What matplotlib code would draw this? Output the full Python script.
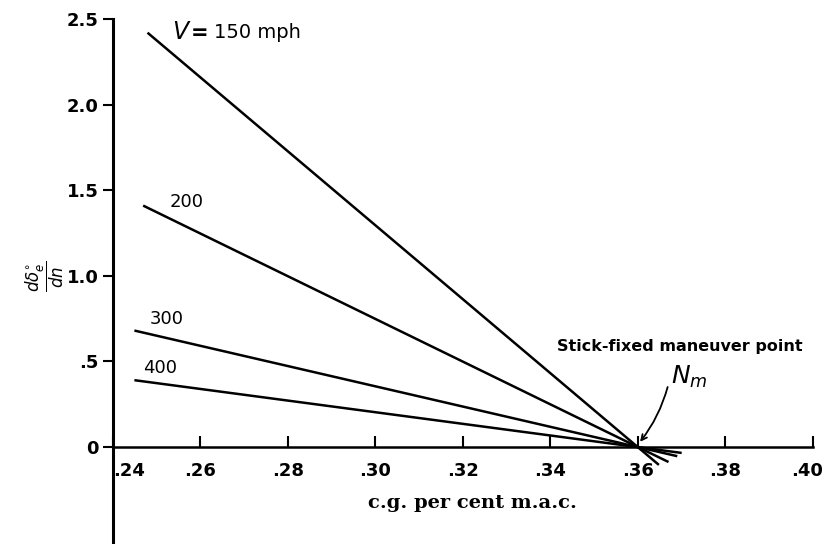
import matplotlib.pyplot as plt
import matplotlib.transforms as mtransforms
from matplotlib.ticker import FixedLocator

# lines of d(delta_e)/dn vs c.g. position, one per airspeed
speeds = [150, 200, 300, 400]
cg_start = [0.248, 0.247, 0.245, 0.245]
val_start = [2.42, 1.41, 0.68, 0.39]
cg_end = [0.3648, 0.367, 0.369, 0.370]
val_end = [-0.105, -0.088, -0.054, -0.035]

maneuver_point = 0.3605

x_ticks = [0.24, 0.26, 0.28, 0.30, 0.32, 0.34, 0.36, 0.38, 0.40]
x_tick_labels = ['.24', '.26', '.28', '.30', '.32', '.34', '.36', '.38', '.40']
y_ticks = [0, 0.5, 1.0, 1.5, 2.0, 2.5]
y_tick_labels = ['0', '.5', '1.0', '1.5', '2.0', '2.5']

fig = plt.figure(figsize=(8.24, 5.44), dpi=100)
ax = fig.add_axes([112.5/824, 0, (813-112.5)/824, (544-19)/544])
ax.set_xlim(0.24, 0.40)
ax.set_ylim(-0.567, 2.5)

for i in range(len(speeds)):
    ax.plot([cg_start[i], cg_end[i]], [val_start[i], val_end[i]],
            color='black', lw=1.8, solid_capstyle='butt')

# axes look
ax.spines['top'].set_visible(False)
ax.spines['right'].set_visible(False)
ax.spines['bottom'].set_position(('data', 0))
ax.spines['bottom'].set_linewidth(1.8)
ax.spines['left'].set_linewidth(2.2)

ax.xaxis.set_major_locator(FixedLocator(x_ticks))
ax.set_xticklabels(x_tick_labels)
ax.yaxis.set_major_locator(FixedLocator(y_ticks))
ax.set_yticklabels(y_tick_labels)
ax.tick_params(axis='x', direction='in', length=8, width=1.5, pad=11,
               labelsize=13)
ax.tick_params(axis='y', direction='out', length=7, width=1.5, pad=3,
               labelsize=13)
for lab in ax.get_xticklabels() + ax.get_yticklabels():
    lab.set_fontweight('bold')
# nudge the end labels like the original
xlabs = ax.get_xticklabels()
xlabs[0].set_transform(xlabs[0].get_transform() +
                       mtransforms.ScaledTranslation(0.17, 0, fig.dpi_scale_trans))
xlabs[-1].set_transform(xlabs[-1].get_transform() +
                        mtransforms.ScaledTranslation(-0.06, 0, fig.dpi_scale_trans))

# line labels
ax.text(0.2536, 2.42, r'$V$', fontsize=17, family='DejaVu Serif',
        va='center', ha='left')
ax.text(0.2579, 2.42, '=', fontsize=15, fontweight='bold', va='center',
        ha='left')
ax.text(0.2632, 2.42, '150 mph', fontsize=14, va='center', ha='left')
ax.text(0.2531, 1.43, '200', fontsize=13, va='center', ha='left')
ax.text(0.2486, 0.745, '300', fontsize=13, va='center', ha='left')
ax.text(0.2470, 0.462, '400', fontsize=13, va='center', ha='left')

ax.text(0.3415, 0.585, 'Stick-fixed maneuver point', fontsize=11.5,
        fontweight='bold', va='center', ha='left')
ax.text(0.3675, 0.41, r'$N_m$', fontsize=18, ha='left', va='center')
ax.annotate('', xy=(maneuver_point, 0.03), xytext=(0.3668, 0.35),
            arrowprops=dict(arrowstyle='->', color='black', lw=1.3,
                            connectionstyle='arc3,rad=-0.1',
                            shrinkA=0, shrinkB=0))

ax.text(0.3222, -0.33, 'c.g. per cent m.a.c.', fontsize=14,
        fontweight='bold', family='DejaVu Serif', ha='center', va='center')
fig.text(45/824, 1 - 276/544, r'$\dfrac{d\delta_e^{\circ}}{dn}$',
         fontsize=12, rotation=90, ha='center', va='center')

fig.savefig('out.png', dpi=100)
